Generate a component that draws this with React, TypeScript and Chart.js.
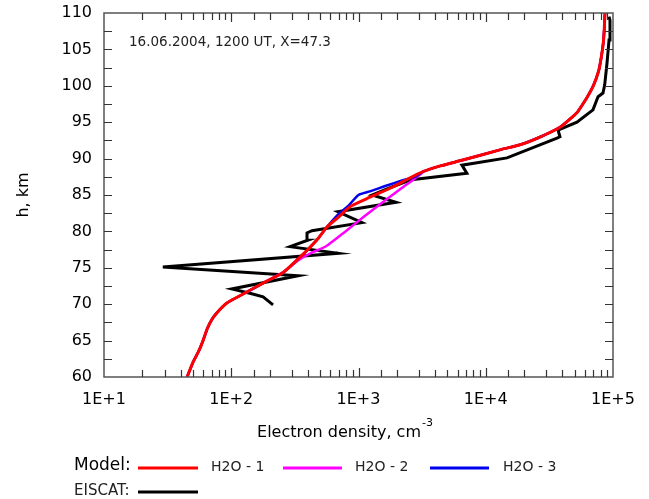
import React, { useEffect, useRef } from 'react';
import { Chart, registerables } from 'chart.js';

Chart.register(...registerables);

// ---- Data ----
// Model H2O - 1 (red)
const h2o1H = [60, 62, 63.7, 65, 66.7, 68, 68.8, 69.6, 70.2, 71.4, 72.9, 74.4, 76.1, 77.4, 79, 80.6, 82, 83.4, 84.7, 86.1, 87.2, 88.2, 89, 89.8, 91.2, 91.9, 93, 94.3, 95.3, 96.3, 97.5, 98.5, 100, 102, 104, 106, 108, 110];
const h2o1Ne = [45, 50, 56, 60, 65, 71, 77, 85, 93, 124, 178, 257, 329, 394, 480, 565, 700, 857, 1230, 1860, 2450, 3210, 4400, 6600, 12900, 18600, 27000, 38300, 45000, 52000, 58000, 63000, 70000, 77000, 81000, 84000, 85500, 86500];

// Model H2O - 2 (magenta)
const h2o2H = [60, 62, 63.7, 65, 66.7, 68, 68.8, 69.6, 70.2, 71.4, 72.9, 74.4, 76, 77, 78, 80, 82, 84, 86, 87, 88, 88.2, 89, 89.8, 91.2, 91.9, 93, 94.3, 95.3, 96.3, 97.5, 98.5, 100, 102, 104, 106, 108, 110];
const h2o2Ne = [45, 50, 56, 60, 65, 71, 77, 85, 93, 124, 178, 257, 335, 420, 560, 790, 1100, 1550, 2200, 2650, 3150, 3210, 4400, 6600, 12900, 18600, 27000, 38300, 45000, 52000, 58000, 63000, 70000, 77000, 81000, 84000, 85500, 86500];

// Model H2O - 3 (blue)
const h2o3H = [60, 62, 63.7, 65, 66.7, 68, 68.8, 69.6, 70.2, 71.4, 72.9, 74.4, 76.1, 77.4, 79, 80.6, 82.3, 83.5, 85, 85.5, 86.2, 87, 87.6, 88.2, 89, 89.8, 91.2, 91.9, 93, 94.3, 95.3, 96.3, 97.5, 98.5, 100, 102, 104, 106, 108, 110];
const h2o3Ne = [45, 50, 56, 60, 65, 71, 77, 85, 93, 124, 178, 257, 329, 394, 480, 565, 690, 830, 1000, 1230, 1600, 2200, 2870, 3210, 4400, 6600, 12900, 18600, 27000, 38300, 45000, 52000, 58000, 63000, 70000, 77000, 81000, 84000, 85500, 86500];

// EISCAT measurements (black)
const eiscatH = [69.9, 71.0, 71.5, 72.1, 73.9, 75.1, 77.0, 77.9, 78.8, 79.8, 80.1, 81.2, 82.7, 84.0, 85.0, 86.1, 87.1, 88.0, 89.1, 90.1, 92.8, 93.0, 93.9, 95.0, 96.7, 98.5, 99.0, 100.1, 103.1, 106.3, 109.0, 109.5];
const eiscatNe = [213, 178, 140, 101, 335, 29, 690, 290, 400, 394, 431, 1065, 690, 1970, 1280, 1830, 2600, 7100, 6500, 14700, 36300, 38300, 37000, 52100, 69600, 76300, 83400, 86000, 89700, 93100, 94700, 93000];

// Axis ticks / labels
const xTickLabels = ['1E+1', '1E+2', '1E+3', '1E+4', '1E+5'];
const yMin = 60;
const yMax = 110;
const yLabelStep = 5;
const yMinorStep = 2.5;

const seriesNames = ['EISCAT', 'H2O - 1', 'H2O - 2', 'H2O - 3'];
const annotationText = '16.06.2004, 1200 UT, X=47.3';
const xTitle = 'Electron density, cm';
const xTitleSup = '-3';
const yTitle = 'h, km';

const FONT = '"DejaVu Sans", Verdana, sans-serif';

const toPts = (h: number[], ne: number[]) => h.map((v, i) => ({ x: ne[i], y: v }));

const isDecade = (v: number) => {
  const l = Math.log10(v);
  return Math.abs(l - Math.round(l)) < 1e-6;
};

const decorPlugin = {
  id: 'decor',
  afterDraw(chart: any) {
    const { ctx, chartArea: a, scales } = chart;
    const xs = scales.x;
    const ys = scales.y;
    ctx.save();
    // frame
    ctx.strokeStyle = '#555';
    ctx.lineWidth = 1.5;
    ctx.strokeRect(a.left, a.top, a.right - a.left, a.bottom - a.top);
    // inward ticks
    ctx.lineWidth = 1.2;
    ctx.strokeStyle = '#333';
    ctx.beginPath();
    xs.ticks.forEach((t: any) => {
      const px = Math.round(xs.getPixelForValue(t.value)) + 0.5;
      if (px <= a.left + 1 || px >= a.right - 1) return;
      const len = isDecade(t.value) ? 9 : 7;
      ctx.moveTo(px, a.bottom);
      ctx.lineTo(px, a.bottom - len);
      ctx.moveTo(px, a.top);
      ctx.lineTo(px, a.top + len);
    });
    ys.ticks.forEach((t: any) => {
      const py = Math.round(ys.getPixelForValue(t.value)) + 0.5;
      if (py <= a.top + 1 || py >= a.bottom - 1) return;
      ctx.moveTo(a.left, py);
      ctx.lineTo(a.left + 8, py);
      ctx.moveTo(a.right, py);
      ctx.lineTo(a.right - 8, py);
    });
    ctx.stroke();

    // titles
    ctx.fillStyle = '#000';
    ctx.textBaseline = 'middle';
    ctx.font = `16px ${FONT}`;
    const wMain = ctx.measureText(xTitle).width;
    ctx.font = `11px ${FONT}`;
    const wSup = ctx.measureText(xTitleSup).width;
    const startX = 345 - (wMain + wSup + 1) / 2;
    ctx.font = `16px ${FONT}`;
    ctx.textAlign = 'left';
    ctx.fillText(xTitle, startX, 433);
    ctx.font = `11px ${FONT}`;
    ctx.fillText(xTitleSup, startX + wMain + 1, 423);

    ctx.save();
    ctx.translate(24, 195);
    ctx.rotate(-Math.PI / 2);
    ctx.font = `16px ${FONT}`;
    ctx.textAlign = 'center';
    ctx.fillText(yTitle, 0, 0);
    ctx.restore();

    // annotation
    ctx.font = `13.5px ${FONT}`;
    ctx.fillStyle = '#222';
    ctx.textAlign = 'left';
    ctx.fillText(annotationText, 129, 42);

    // legend
    const ds = chart.data.datasets;
    ctx.fillStyle = '#000';
    ctx.font = `17px ${FONT}`;
    ctx.fillText('Model:', 74, 466);
    ctx.font = `15px ${FONT}`;
    ctx.fillStyle = '#222';
    ctx.fillText(`${seriesNames[0]}:`, 74, 491);
    const items = [
      { ds: ds[3], x0: 138, x1: 198, tx: 211 },
      { ds: ds[1], x0: 283, x1: 342, tx: 355 },
      { ds: ds[2], x0: 430, x1: 489, tx: 503 },
    ];
    ctx.lineWidth = 3;
    items.forEach((it) => {
      ctx.strokeStyle = it.ds.borderColor;
      ctx.beginPath();
      ctx.moveTo(it.x0, 468);
      ctx.lineTo(it.x1, 468);
      ctx.stroke();
      ctx.fillStyle = '#222';
      ctx.font = `14px ${FONT}`;
      ctx.fillText(it.ds.label, it.tx, 467);
    });
    ctx.strokeStyle = ds[0].borderColor;
    ctx.beginPath();
    ctx.moveTo(138, 492);
    ctx.lineTo(198, 492);
    ctx.stroke();
    ctx.restore();
  },
};

export default function App() {
  const ref = useRef<HTMLCanvasElement | null>(null);
  useEffect(() => {
    if (!ref.current) return;
    const chart = new Chart(ref.current, {
      type: 'scatter',
      data: {
        datasets: [
          {
            label: seriesNames[0],
            data: toPts(eiscatH, eiscatNe),
            showLine: true,
            borderColor: '#000000',
            borderWidth: 3,
            pointRadius: 0,
            tension: 0,
            order: 4,
          },
          {
            label: seriesNames[2],
            data: toPts(h2o2H, h2o2Ne),
            showLine: true,
            borderColor: '#ff00ff',
            borderWidth: 2.5,
            pointRadius: 0,
            tension: 0.2,
            order: 3,
          },
          {
            label: seriesNames[3],
            data: toPts(h2o3H, h2o3Ne),
            showLine: true,
            borderColor: '#0000ee',
            borderWidth: 2.5,
            pointRadius: 0,
            tension: 0.2,
            order: 2,
          },
          {
            label: seriesNames[1],
            data: toPts(h2o1H, h2o1Ne),
            showLine: true,
            borderColor: '#ff0000',
            borderWidth: 3,
            pointRadius: 0,
            tension: 0.2,
            order: 1,
          },
        ],
      },
      options: {
        responsive: false,
        animation: false,
        layout: { padding: { top: 13, right: 36, bottom: 0, left: 0 } },
        plugins: {
          legend: { display: false },
          tooltip: { enabled: false },
          title: { display: false },
        },
        scales: {
          x: {
            type: 'logarithmic',
            min: 10,
            max: 100000,
            grid: { display: false, drawTicks: false },
            border: { display: false },
            afterFit: (s: any) => {
              s.height = 122;
              s.paddingLeft = 0;
              s.paddingRight = 0;
              s.paddingTop = 0;
              s.paddingBottom = 0;
            },
            ticks: {
              autoSkip: false,
              maxRotation: 0,
              padding: 13,
              color: '#000',
              font: { family: FONT, size: 16 },
              callback: (v: any) => {
                const n = Number(v);
                if (!isDecade(n)) return '';
                const e = Math.round(Math.log10(n));
                return xTickLabels[e - 1] ?? '';
              },
            },
          },
          y: {
            type: 'linear',
            min: yMin,
            max: yMax,
            grid: { display: false, drawTicks: false },
            border: { display: false },
            afterFit: (s: any) => {
              s.width = 104;
              s.paddingLeft = 0;
              s.paddingRight = 0;
              s.paddingTop = 0;
              s.paddingBottom = 0;
            },
            ticks: {
              stepSize: yMinorStep,
              autoSkip: false,
              padding: 12,
              color: '#000',
              font: { family: FONT, size: 16 },
              callback: (v: any) => (Number(v) % yLabelStep === 0 ? String(v) : ''),
            },
          },
        },
      },
      plugins: [decorPlugin],
    } as any);
    return () => chart.destroy();
  }, []);
  return (
    <div style={{ position: 'absolute', left: 0, top: 0, width: 649, height: 499, background: '#fff' }}>
      <canvas ref={ref} width={649} height={499} style={{ display: 'block' }} />
    </div>
  );
}
